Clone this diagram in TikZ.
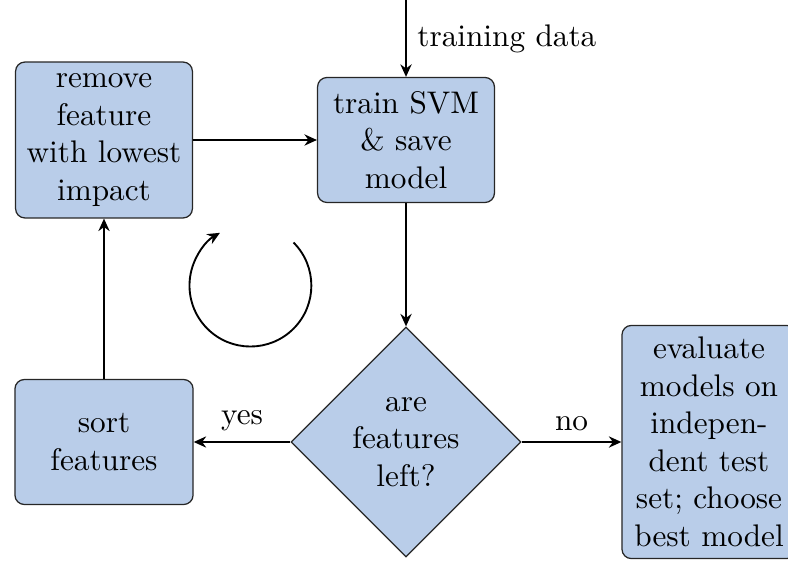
\documentclass[tikz,border=0pt]{standalone}
\usetikzlibrary{shapes.geometric,arrows.meta}
\definecolor{boxblue}{RGB}{185,205,233}
\tikzset{
  box/.style={draw=black!85, fill=boxblue, rounded corners=3pt, align=center, inner sep=2pt, line width=0.4pt},
  decision/.style={draw=black!85, fill=boxblue, diamond, aspect=1, align=center, inner sep=1pt, minimum width=73.6pt, minimum height=73.6pt, line width=0.4pt},
  arr/.style={-{Stealth[length=4pt,width=3.6pt,inset=1.3pt]}, semithick},
}
\begin{document}
\begin{tikzpicture}[x=0.32pt,y=-0.32pt]
\path[use as bounding box, clip] (0,0) rectangle (788,561);

\node[box, minimum width=56.6pt, minimum height=49.9pt] (remove) at (104,140) {remove\\feature\\with lowest\\impact};
\node[box, minimum width=56.6pt, minimum height=40pt] (train) at (406,140) {train SVM\\\& save\\model};
\node[box, minimum width=57pt, minimum height=40pt] (sort) at (104,442) {sort\\features};
\node[decision] (dec) at (406,442) {are\\features\\left?};
\node[box, minimum width=55.7pt, minimum height=74.6pt] (eval) at (709,442) {evaluate\\models on\\indepen-\\dent test\\set; choose\\best model};

\coordinate (in) at (406,0);
\draw[arr] (in) -- node[right, midway] {training data} (train.north);
\draw[arr] (remove.east) -- (remove.east -| train.west);
\draw[arr] (train.south) -- (dec.north);
\draw[arr] (dec.west) -- node[above, midway] {yes} (sort.east);
\draw[arr] (dec.east) -- node[above, midway] {no} (eval.west);
\draw[arr] (sort.north) -- (remove.south);

\coordinate (loopstart) at (293.5,242.5);
\draw[arr] (loopstart) arc[start angle=45, end angle=-240, radius=19.5pt];
\end{tikzpicture}
\end{document}
